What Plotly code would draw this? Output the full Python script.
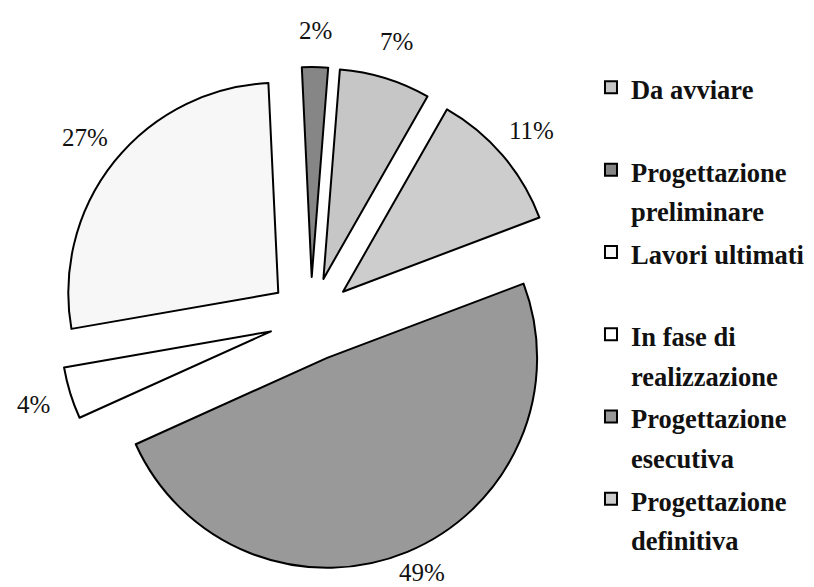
import math
import plotly.graph_objects as go

categories = ["Da avviare", "Progettazione<br>preliminare", "Lavori ultimati",
              "In fase di<br>realizzazione", "Progettazione<br>esecutiva",
              "Progettazione<br>definitiva"]
values = [7, 2, 27, 4, 49, 11]
colors = ["#c6c6c6", "#868686", "#f7f7f7", "#ffffff", "#999999", "#cdcdcd"]

# geometry / style settings
ROTATION = 4.5
PULL = 0.2
DOM_X = [0.0627, 0.6819]
DOM_Y = [0.0409, 0.8994]
W, H = 814, 587
LABEL_DIST = 290  # px from pie centre
LABEL_FONT = 25

def legend_label(txt):
    parts = txt.split("<br>")
    if len(parts) == 1:
        parts.append("&nbsp;")
    return "<br>".join("<span style='font-size:26.5px'>%s</span>" % p for p in parts)

fig = go.Figure(go.Pie(
    labels=[legend_label(c) for c in categories],
    values=values,
    sort=False,
    direction="counterclockwise",
    rotation=ROTATION,
    pull=[PULL] * len(values),
    automargin=False,
    marker=dict(colors=colors, line=dict(color="#000000", width=2)),
    textinfo="none",
    domain=dict(x=DOM_X, y=DOM_Y),
    hoverinfo="label+percent",
))

# percentage labels placed radially at each slice's mid angle
# (counterclockwise pie: first slice spans [rotation, rotation + its span])
total = sum(values)
cx_px = W * (DOM_X[0] + DOM_X[1]) / 2
cy_px = H * (1 - (DOM_Y[0] + DOM_Y[1]) / 2)
angle = ROTATION + 360.0 * values[0] / total
half_h = LABEL_FONT * 0.9
for v in values:
    span = 360.0 * v / total
    mid = angle - span / 2
    angle -= span
    a = math.radians(mid)
    px = cx_px + LABEL_DIST * math.sin(a)
    py = cy_px - LABEL_DIST * math.cos(a)
    py = min(max(py, half_h), H - half_h)  # keep text inside the canvas
    fig.add_annotation(
        x=px / W, y=1 - py / H, xref="paper", yref="paper",
        text="%d%%" % round(100.0 * v / total),
        showarrow=False, xanchor="center", yanchor="middle",
        borderpad=0,
        font=dict(family="Liberation Serif", size=LABEL_FONT, color="#111111"),
    )

fig.update_layout(
    width=W, height=H,
    margin=dict(l=0, r=0, t=0, b=0, autoexpand=False),
    paper_bgcolor="white",
    plot_bgcolor="white",
    showlegend=True,
    legend=dict(
        x=0.7162, y=0.9097, xanchor="left", yanchor="top",
        valign="top",
        font=dict(family="Liberation Serif", size=30.5, color="#111111",
                  weight="bold"),
        itemwidth=30,
        bgcolor="rgba(0,0,0,0)",
    ),
)

fig.write_html("out.html")
